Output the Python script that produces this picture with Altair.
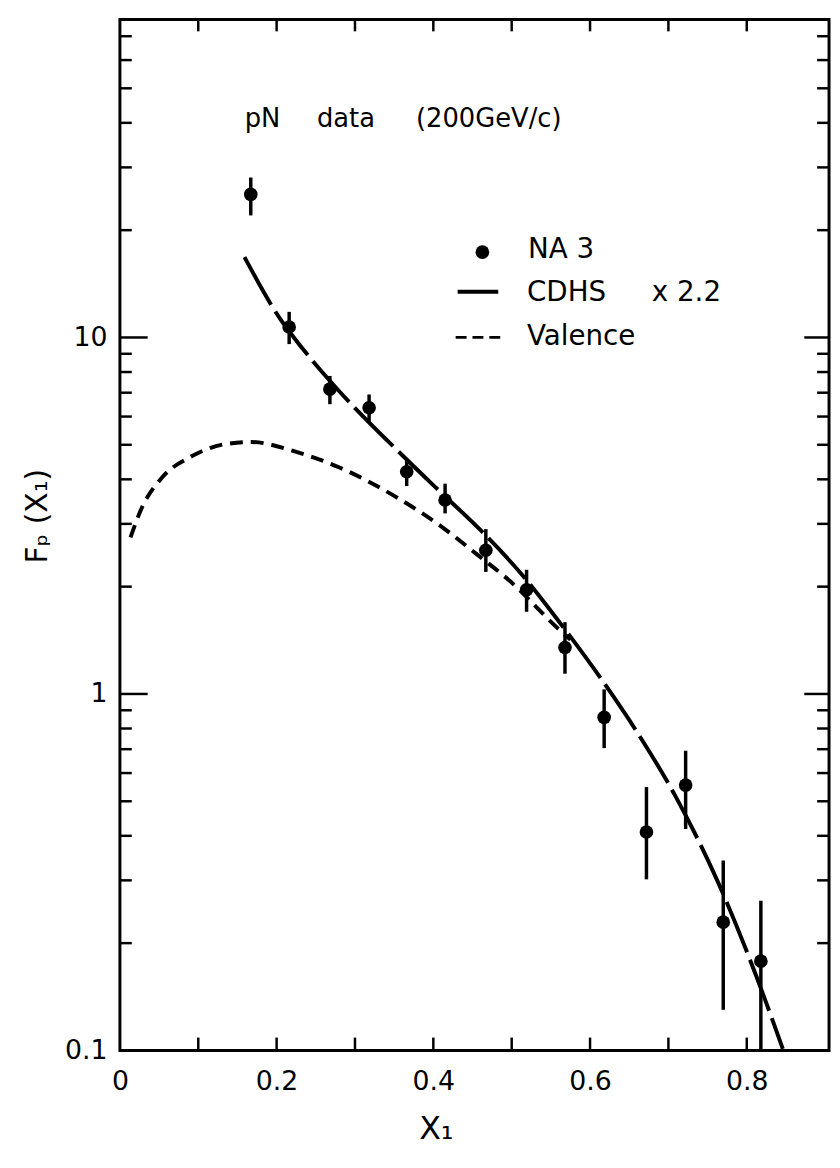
import altair as alt
import pandas as pd

# ---------------- data ----------------
na3_x = [0.167, 0.216, 0.268, 0.318, 0.366, 0.415, 0.467, 0.519, 0.568, 0.618, 0.672, 0.722, 0.770, 0.818]
na3_y = [25.2, 10.7, 7.16, 6.35, 4.20, 3.50, 2.53, 1.96, 1.35, 0.86, 0.41, 0.555, 0.229, 0.178]
na3_lo = [22.0, 9.58, 6.5, 5.81, 3.83, 3.21, 2.20, 1.70, 1.14, 0.705, 0.302, 0.418, 0.130, 0.1]
na3_hi = [28.1, 11.8, 7.8, 6.92, 4.55, 3.89, 2.90, 2.23, 1.59, 1.03, 0.548, 0.693, 0.341, 0.263]

cdhs_x = [0.159, 0.205, 0.222, 0.260, 0.277, 0.364, 0.410, 0.461, 0.514, 0.560, 0.617, 0.657, 0.710, 0.762, 0.812, 0.846]
cdhs_y = [16.8, 11.24, 10.0, 7.91, 7.18, 4.59, 3.67, 2.87, 2.15, 1.60, 1.08, 0.80, 0.512, 0.301, 0.162, 0.101]

valence_x = [0.0135, 0.028, 0.0535, 0.0915, 0.134, 0.1675, 0.222, 0.281, 0.357, 0.412, 0.454, 0.497, 0.560, 0.575]
valence_y = [2.75, 3.33, 4.04, 4.64, 5.02, 5.09, 4.80, 4.31, 3.52, 2.93, 2.48, 2.08, 1.52, 1.42]

x_label_values = [0, 0.2, 0.4, 0.6, 0.8]
x_tick_values = [0.1, 0.2, 0.3, 0.4, 0.5, 0.6, 0.7, 0.8]
y_label_values = [0.1, 1, 10]
y_major_ticks = [1, 10]
y_minor_ticks = [0.2, 0.3, 0.4, 0.5, 0.6, 0.7, 0.8, 0.9,
                 2, 3, 4, 5, 6, 7, 8, 9,
                 20, 30, 40, 50, 60, 70]

# ---------------- layout ----------------
W, H = 716, 1041
FONT = "DejaVu Sans"
xs = alt.Scale(domain=[0, 0.905], nice=False, zero=False)
ys = alt.Scale(type="log", domain=[0.1, 78], nice=False)

pts = pd.DataFrame({"x": na3_x, "y": na3_y, "lo": na3_lo, "hi": na3_hi})
cdhs = pd.DataFrame({"x": cdhs_x, "y": cdhs_y})
val = pd.DataFrame({"x": valence_x, "y": valence_y})
xt = pd.DataFrame({"x": x_tick_values})
ymaj = pd.DataFrame({"y": y_major_ticks})
ymin = pd.DataFrame({"y": y_minor_ticks})
one = pd.DataFrame({"a": [0]})

x_axis = alt.Axis(values=x_label_values, ticks=False, domain=False, grid=False,
                  labelExpr="datum.value == 0 ? '0' : format(datum.value, '.1f')",
                  labelFont=FONT, labelFontSize=27, labelColor="black", labelPadding=18,
                  labelFlush=False,
                  title="X₁", titleFont=FONT, titleFontSize=32, titleFontWeight="normal",
                  titleColor="black", titleX=319, titleY=79, titleBaseline="middle")
y_axis = alt.Axis(values=y_label_values, ticks=False, domain=False, grid=False,
                  labelExpr="datum.value == 0.1 ? '0.1' : format(datum.value, '~g')",
                  labelFont=FONT, labelFontSize=27, labelColor="black", labelPadding=13,
                  labelFlush=False,
                  title="Fₚ  (X₁)", titleFont=FONT, titleFontSize=30, titleFontWeight="normal",
                  titleColor="black", titleX=-83, titleY=501, titleAngle=270,
                  titleAlign="center", titleBaseline="middle")


def X(field="x"):
    return alt.X(f"{field}:Q", scale=xs, axis=x_axis)


def Y(field="y"):
    return alt.Y(f"{field}:Q", scale=ys, axis=y_axis)


errbars = alt.Chart(pts).mark_rule(color="black", strokeWidth=3.5).encode(
    x=X(), y=Y("lo"), y2="hi:Q")
dots = alt.Chart(pts).mark_circle(color="black", opacity=1, size=190).encode(x=X(), y=Y())
cdhs_line = alt.Chart(cdhs).mark_line(color="black", strokeWidth=4, strokeDash=[55, 8],
                                      interpolate="monotone", clip=True).encode(x=X(), y=Y())
val_line = alt.Chart(val).mark_line(color="black", strokeWidth=4, strokeDash=[13, 8],
                                    interpolate="monotone", clip=True).encode(x=X(), y=Y())

# inward ticks on all four sides
TW = 2.5
tick_bottom = alt.Chart(xt).mark_rule(color="black", strokeWidth=TW).encode(
    x=X(), y=alt.value(H), y2=alt.value(H - 13))
tick_top = alt.Chart(xt).mark_rule(color="black", strokeWidth=TW).encode(
    x=X(), y=alt.value(0), y2=alt.value(12))
tick_lmaj = alt.Chart(ymaj).mark_rule(color="black", strokeWidth=TW).encode(
    y=Y(), x=alt.value(0), x2=alt.value(28))
tick_lmin = alt.Chart(ymin).mark_rule(color="black", strokeWidth=TW).encode(
    y=Y(), x=alt.value(0), x2=alt.value(12))
tick_rmaj = alt.Chart(ymaj).mark_rule(color="black", strokeWidth=TW).encode(
    y=Y(), x=alt.value(W), x2=alt.value(W - 25))
tick_rmin = alt.Chart(ymin).mark_rule(color="black", strokeWidth=TW).encode(
    y=Y(), x=alt.value(W), x2=alt.value(W - 12))


def label(txt, px, py, size):
    return alt.Chart(one).mark_text(font=FONT, fontSize=size, color="black",
                                    align="left", baseline="alphabetic").encode(
        x=alt.value(px), y=alt.value(py), text=alt.value(txt))


title_parts = (label("pN", 126, 109, 26) + label("data", 199, 109, 26)
               + label("(200GeV/c)", 299, 109, 26))

leg_dot = alt.Chart(one).mark_circle(color="black", opacity=1, size=190).encode(
    x=alt.value(366), y=alt.value(235))
leg_solid = alt.Chart(one).mark_rule(color="black", strokeWidth=4).encode(
    x=alt.value(341), x2=alt.value(382), y=alt.value(275))
leg_dash = alt.Chart(one).mark_rule(color="black", strokeWidth=3, strokeDash=[11, 6]).encode(
    x=alt.value(339), x2=alt.value(384), y=alt.value(321))
legend = (leg_dot + leg_solid + leg_dash
          + label("NA\u00a03", 412, 241, 28)
          + label("CDHS", 411, 284, 28) + label("x 2.2", 537, 284, 28)
          + label("Valence", 411, 329, 28))

chart = alt.layer(
    errbars, val_line, cdhs_line, dots,
    tick_bottom, tick_top, tick_lmaj, tick_lmin, tick_rmaj, tick_rmin,
    title_parts, legend,
).properties(
    width=W, height=H,
    autosize=alt.AutoSizeParams(type="none"),
    padding={"left": 113, "top": 6, "right": 3, "bottom": 100},
).configure(
    background="white"
).configure_view(
    stroke="black", strokeWidth=3, fill="white"
)

chart.save("out.html", embed_options={"renderer": "svg", "actions": False})
